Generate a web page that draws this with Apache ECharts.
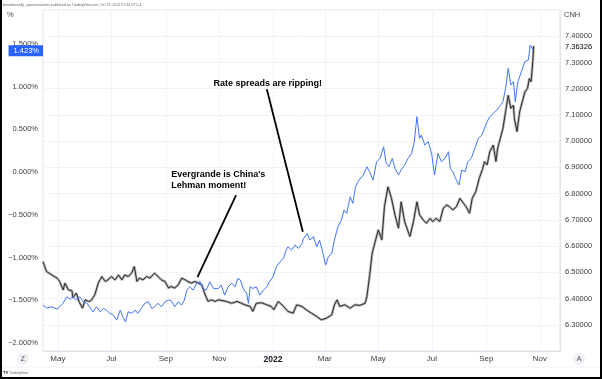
<!DOCTYPE html>
<html><head><meta charset="utf-8">
<script src="https://cdn.jsdelivr.net/npm/echarts@6/dist/echarts.min.js"></script>
<style>html,body{margin:0;padding:0;background:#fff}#c{width:602px;height:379px}</style>
</head><body><div id="c"></div>
<script>
// ---- data ----
const spreadDates = [
'2021-04-14','2021-04-18','2021-04-24','2021-04-30',
'2021-05-03','2021-05-07','2021-05-11','2021-05-15','2021-05-18','2021-05-22','2021-05-26','2021-05-30',
'2021-06-03','2021-06-06','2021-06-10','2021-06-14','2021-06-18','2021-06-22','2021-06-25','2021-06-29',
'2021-07-03','2021-07-07','2021-07-11','2021-07-14','2021-07-17','2021-07-20','2021-07-24','2021-07-28','2021-07-31',
'2021-08-04','2021-08-08','2021-08-12','2021-08-16','2021-08-19','2021-08-23','2021-08-27','2021-08-31',
'2021-09-04','2021-09-07','2021-09-11','2021-09-15','2021-09-19','2021-09-22','2021-09-25','2021-09-28',
'2021-10-02','2021-10-06','2021-10-10','2021-10-13','2021-10-17','2021-10-21','2021-10-25','2021-10-31',
'2021-11-03','2021-11-07','2021-11-11','2021-11-15','2021-11-19','2021-11-22','2021-11-25','2021-11-28',
'2021-12-02','2021-12-04','2021-12-06','2021-12-09','2021-12-13','2021-12-17','2021-12-21','2021-12-25','2021-12-28',
'2022-01-01','2022-01-05','2022-01-09','2022-01-13','2022-01-16','2022-01-18','2022-01-22','2022-01-26','2022-01-30',
'2022-02-03','2022-02-05','2022-02-09','2022-02-12','2022-02-16','2022-02-20','2022-02-23','2022-02-27',
'2022-03-02','2022-03-05','2022-03-09','2022-03-12','2022-03-16','2022-03-20','2022-03-23','2022-03-26','2022-03-30',
'2022-04-02','2022-04-05','2022-04-09','2022-04-14','2022-04-18','2022-04-21','2022-04-25','2022-04-29',
'2022-05-03','2022-05-07','2022-05-10','2022-05-13','2022-05-17','2022-05-20','2022-05-24','2022-05-27','2022-05-31',
'2022-06-04','2022-06-08','2022-06-11','2022-06-14','2022-06-17','2022-06-19','2022-06-23','2022-06-27',
'2022-07-01','2022-07-04','2022-07-08','2022-07-12','2022-07-16','2022-07-20','2022-07-22','2022-07-25','2022-07-28',
'2022-08-01','2022-08-04','2022-08-08','2022-08-11','2022-08-15','2022-08-19','2022-08-23','2022-08-27','2022-08-30',
'2022-09-02','2022-09-05','2022-09-09','2022-09-13','2022-09-16','2022-09-20','2022-09-23','2022-09-26','2022-09-29',
'2022-10-02','2022-10-04','2022-10-07','2022-10-11','2022-10-15','2022-10-19','2022-10-21','2022-10-23','2022-10-25'];
const spreadValues = [
-1.556,-1.591,-1.576,-1.603,
-1.576,-1.533,-1.459,-1.486,-1.459,-1.498,-1.459,-1.518,
-1.533,-1.576,-1.635,-1.576,-1.635,-1.595,-1.615,-1.650,
-1.673,-1.732,-1.615,-1.693,-1.752,-1.635,-1.653,-1.615,-1.653,
-1.595,-1.536,-1.518,-1.595,-1.576,-1.536,-1.576,-1.518,
-1.498,-1.505,-1.576,-1.518,-1.556,-1.498,-1.381,-1.342,
-1.381,-1.302,-1.283,-1.361,-1.381,-1.283,-1.361,-1.361,
-1.322,-1.439,-1.342,-1.302,-1.342,-1.244,-1.263,-1.361,
-1.419,-1.536,-1.342,-1.361,-1.342,-1.439,-1.381,-1.342,-1.283,
-1.225,-1.108,-1.049,-1.009,-0.912,-0.873,-0.912,-0.854,-0.892,
-0.834,-0.775,-0.717,-0.795,-0.756,-0.873,-0.795,-0.951,
-1.088,-0.991,-0.951,-0.795,-0.639,-0.561,-0.444,-0.482,-0.288,
-0.365,-0.171,-0.093,-0.034,0.063,0.005,-0.093,0.118,
0.162,0.297,0.103,0.063,0.162,0.044,-0.034,0.025,0.083,
0.162,0.220,0.356,0.649,0.396,0.434,0.317,0.356,
0.200,-0.034,0.220,0.122,0.162,0.239,0.044,0.005,-0.073,
-0.151,0.025,0.005,0.122,0.162,0.279,0.396,0.434,0.513,
0.590,0.649,0.689,0.727,0.766,0.824,0.981,1.215,1.020,
1.059,0.824,1.059,1.176,1.293,1.313,1.488,1.508,1.423];

const cnhDates = [
'2021-04-14','2021-04-18','2021-04-24','2021-04-30',
'2021-05-03','2021-05-07','2021-05-09','2021-05-13','2021-05-17','2021-05-18','2021-05-22','2021-05-25','2021-05-29',
'2021-06-01','2021-06-05','2021-06-08','2021-06-12','2021-06-16','2021-06-20','2021-06-24','2021-06-27',
'2021-07-01','2021-07-05','2021-07-09','2021-07-13','2021-07-16','2021-07-20','2021-07-24','2021-07-27','2021-07-30',
'2021-08-02','2021-08-06','2021-08-10','2021-08-14','2021-08-19','2021-08-23','2021-08-27','2021-08-31',
'2021-09-04','2021-09-07','2021-09-11','2021-09-15','2021-09-19','2021-09-23','2021-09-26','2021-09-30',
'2021-10-04','2021-10-08','2021-10-12','2021-10-15','2021-10-19','2021-10-23','2021-10-27','2021-10-31',
'2021-11-03','2021-11-09','2021-11-15','2021-11-21','2021-11-26','2021-11-30',
'2021-12-06','2021-12-09','2021-12-13','2021-12-19','2021-12-25','2021-12-30',
'2022-01-02','2022-01-07','2022-01-13','2022-01-18','2022-01-24','2022-01-28',
'2022-02-03','2022-02-08','2022-02-14','2022-02-20','2022-02-25',
'2022-03-03','2022-03-09','2022-03-12','2022-03-15','2022-03-18','2022-03-24','2022-03-30',
'2022-04-04','2022-04-10','2022-04-16','2022-04-18','2022-04-21','2022-04-24','2022-04-27',
'2022-05-01','2022-05-05','2022-05-08','2022-05-12','2022-05-16','2022-05-20','2022-05-24','2022-05-27','2022-05-31',
'2022-06-04','2022-06-06','2022-06-10','2022-06-14','2022-06-17','2022-06-21','2022-06-25','2022-06-29',
'2022-07-02','2022-07-06','2022-07-10','2022-07-14','2022-07-18','2022-07-21','2022-07-25','2022-07-29',
'2022-08-02','2022-08-06','2022-08-09','2022-08-13','2022-08-16','2022-08-20','2022-08-24','2022-08-28','2022-08-30',
'2022-09-02','2022-09-05','2022-09-09','2022-09-12','2022-09-14','2022-09-17','2022-09-20','2022-09-23','2022-09-26','2022-09-29',
'2022-10-02','2022-10-03','2022-10-06','2022-10-09','2022-10-12','2022-10-15','2022-10-18','2022-10-20','2022-10-22','2022-10-24','2022-10-25'];
const cnhValues = [
6.541,6.503,6.490,6.478,
6.465,6.433,6.459,6.433,6.430,6.402,6.421,6.389,6.363,
6.395,6.389,6.393,6.414,6.459,6.484,6.465,6.471,
6.484,6.471,6.490,6.471,6.490,6.484,6.497,6.522,6.465,
6.478,6.471,6.484,6.478,6.497,6.484,6.471,6.465,
6.440,6.446,6.440,6.452,6.478,6.471,6.465,6.459,
6.465,6.459,6.452,6.421,6.389,6.395,6.389,6.395,
6.393,6.389,6.382,6.389,6.382,6.376,
6.370,6.351,6.382,6.384,6.376,6.370,
6.357,6.389,6.370,6.351,6.344,6.376,
6.370,6.357,6.344,6.331,6.319,
6.325,6.338,6.376,6.395,6.370,6.376,6.363,
6.376,6.374,6.382,6.408,6.484,6.573,6.611,
6.662,6.623,6.750,6.826,6.782,6.719,6.668,6.769,6.693,
6.655,6.636,6.693,6.769,6.719,6.700,6.687,6.706,
6.693,6.706,6.693,6.744,6.757,6.750,6.738,6.750,
6.782,6.763,6.750,6.725,6.782,6.807,6.858,6.896,6.922,
6.909,6.960,6.985,6.922,6.973,7.011,7.049,7.112,7.175,7.125,
7.137,7.087,7.036,7.112,7.150,7.188,7.201,7.239,7.226,7.302,7.363];

const spreadLast = 1.423;
const cnhLast = 7.36326;
const monthNames = ['Jan','Feb','Mar','Apr','May','Jun','Jul','Aug','Sep','Oct','Nov','Dec'];
const annotationTexts = ['Rate spreads are ripping!', "Evergrande is China's\nLehman moment!"];

// daily category axis (calendar days shown on the time scale)
const dates = [];
for (let t = Date.UTC(2021, 3, 14); t <= Date.UTC(2022, 10, 24); t += 86400000) {
  dates.push(new Date(t).toISOString().slice(0, 10));
}
function zip(d, v) { return d.map((x, i) => [x, v[i]]); }

const FONT = 'Liberation Sans';
const isLabelDay = (idx, val) => val.slice(8) === '01' && (+val.slice(5, 7)) % 2 === 1;

const chart = echarts.init(document.getElementById('c'), null, { renderer: 'canvas' });
chart.setOption({
  animation: false,
  backgroundColor: '#ffffff',
  textStyle: { fontFamily: FONT },
  grid: [
    { left: 43, right: 42, top: 10, bottom: 28, show: true, borderColor: '#e0e3eb', borderWidth: 1 },
    { left: 43, right: 42, top: 44, bottom: 36 }
  ],
  xAxis: [
    {
      type: 'category', gridIndex: 0, data: dates, boundaryGap: false,
      axisLine: { show: true, lineStyle: { color: '#e0e3eb' } },
      axisTick: { show: false },
      axisLabel: {
        interval: isLabelDay, margin: 4, fontSize: 8, color: '#3c3c3c', fontFamily: FONT,
        formatter: v => { const m = +v.slice(5, 7); return m === 1 ? '{b|' + v.slice(0, 4) + '}' : monthNames[m - 1]; },
        rich: { b: { fontWeight: 'bold', fontSize: 8.5, color: '#131722', fontFamily: FONT } }
      },
      splitLine: { show: true, interval: isLabelDay, lineStyle: { color: '#f0f3fa', width: 1 } }
    },
    { type: 'category', gridIndex: 1, data: dates, boundaryGap: false, show: false }
  ],
  yAxis: [
    {
      type: 'value', gridIndex: 0, position: 'right', min: 6.2, max: 7.5, interval: 0.1,
      axisLine: { show: true, lineStyle: { color: '#e0e3eb' } },
      axisTick: { show: false },
      splitLine: { show: true, lineStyle: { color: '#f0f3fa', width: 1 } },
      axisLabel: {
        margin: 5, fontSize: 7.5, color: '#3c3c3c', fontFamily: FONT,
        formatter: v => (v < 6.25 || v > 7.45) ? '' : v.toFixed(5)
      }
    },
    {
      type: 'value', gridIndex: 1, position: 'left', min: -2, max: 1.5, interval: 0.5,
      axisLine: { show: false }, axisTick: { show: false }, splitLine: { show: false },
      axisLabel: {
        margin: 5, fontSize: 7.5, color: '#3c3c3c', fontFamily: FONT,
        formatter: v => (v < 0 ? '\u2212' : '') + Math.abs(v).toFixed(3) + '%'
      }
    }
  ],
  series: [
    {
      name: 'CNH shade', type: 'line', xAxisIndex: 0, yAxisIndex: 0, data: zip(cnhDates, cnhValues),
      symbol: 'none', silent: true, z: 2,
      lineStyle: { color: '#b4b4b4', width: 2.6 }
    },
    {
      name: 'CNH', type: 'line', xAxisIndex: 0, yAxisIndex: 0, data: zip(cnhDates, cnhValues),
      symbol: 'none', z: 3,
      lineStyle: { color: '#2e2e2e', width: 1 },
      markLine: {
        silent: true, symbol: ['none', 'none'],
        data: [{
          yAxis: cnhLast, lineStyle: { color: 'rgba(0,0,0,0)', width: 0.01 },
          label: { show: true, position: 'end', distance: 5, formatter: cnhLast.toFixed(5),
            fontSize: 7.5, color: '#000', fontFamily: FONT, backgroundColor: '#fff' }
        }]
      }
    },
    {
      name: 'Spread', type: 'line', xAxisIndex: 1, yAxisIndex: 1, data: zip(spreadDates, spreadValues),
      symbol: 'none', z: 4, clip: false,
      lineStyle: { color: '#4174f6', width: 1 },
      markLine: {
        silent: true, symbol: ['none', 'none'], z: 6,
        data: [
          {
            yAxis: spreadLast, lineStyle: { color: 'rgba(0,0,0,0)', width: 0.01 },
            label: { show: true, position: 'start', distance: 0, formatter: spreadLast.toFixed(3) + '%',
              fontSize: 7.5, color: '#fff', fontFamily: FONT, backgroundColor: '#2962ff', padding: [2, 4, 1, 5] }
          },
          [
            { coord: ['2021-12-25', 0.970], lineStyle: { color: '#000', width: 1.8, type: 'solid' }, label: { show: false } },
            { coord: ['2022-02-04', -0.698] }
          ],
          [
            { coord: ['2021-11-20', -0.268], lineStyle: { color: '#000', width: 1.8, type: 'solid' }, label: { show: false } },
            { coord: ['2021-10-07', -1.228] }
          ]
        ]
      },
      markPoint: {
        silent: true, symbol: 'circle', symbolSize: 0,
        itemStyle: { color: 'transparent' },
        data: [
          { coord: ['2021-12-26', 1.043],
            label: { show: true, position: 'inside', formatter: annotationTexts[0],
              fontSize: 9, fontWeight: 'bold', color: '#000', fontFamily: FONT } },
          { coord: ['2021-09-07', -0.087],
            label: { show: true, position: 'right', distance: 0, align: 'left', formatter: annotationTexts[1],
              fontSize: 9, fontWeight: 'bold', color: '#000', lineHeight: 11, fontFamily: FONT } }
        ]
      }
    }
  ],
  graphic: [
    { type: 'text', left: 3, top: 3, style: { text: 'brentdonnelly_spectramarkets published on TradingView.com, Oct 25, 2022 07:44 UTC-4', fontSize: 3.5, fill: '#666', fontFamily: FONT } },
    { type: 'text', left: 7, top: 11, style: { text: '%', fontSize: 7.5, fill: '#444', fontFamily: FONT } },
    { type: 'text', left: 564, top: 11, style: { text: 'CNH', fontSize: 7.5, fill: '#444', fontFamily: FONT } },
    { type: 'circle', shape: { cx: 23, cy: 359, r: 6 }, style: { fill: '#eef0f5' } },
    { type: 'text', x: 23, y: 359, style: { text: 'Z', fontSize: 7, fill: '#555', align: 'center', verticalAlign: 'middle', fontFamily: FONT } },
    { type: 'circle', shape: { cx: 579, cy: 359, r: 6 }, style: { fill: '#eef0f5' } },
    { type: 'text', x: 579, y: 359, style: { text: 'A', fontSize: 7, fill: '#555', align: 'center', verticalAlign: 'middle', fontFamily: FONT } },
    { type: 'line', shape: { x1: 2, y1: 367, x2: 600, y2: 367 }, style: { stroke: '#f0f1f4', lineWidth: 1 } },
    { type: 'text', left: 3, top: 371, style: { text: 'TV', fontSize: 4, fontWeight: 'bold', fill: '#131722', fontFamily: FONT } },
    { type: 'text', left: 9, top: 371.5, style: { text: 'TradingView', fontSize: 3.5, fill: '#666', fontFamily: FONT } },
    { type: 'line', shape: { x1: 1, y1: 0, x2: 1, y2: 379 }, style: { stroke: '#000', lineWidth: 2 } },
    { type: 'line', shape: { x1: 601, y1: 0, x2: 601, y2: 379 }, style: { stroke: '#000', lineWidth: 2 } },
    { type: 'line', shape: { x1: 0, y1: 378, x2: 602, y2: 378 }, style: { stroke: '#000', lineWidth: 2 } }
  ]
});
</script>
</body></html>
